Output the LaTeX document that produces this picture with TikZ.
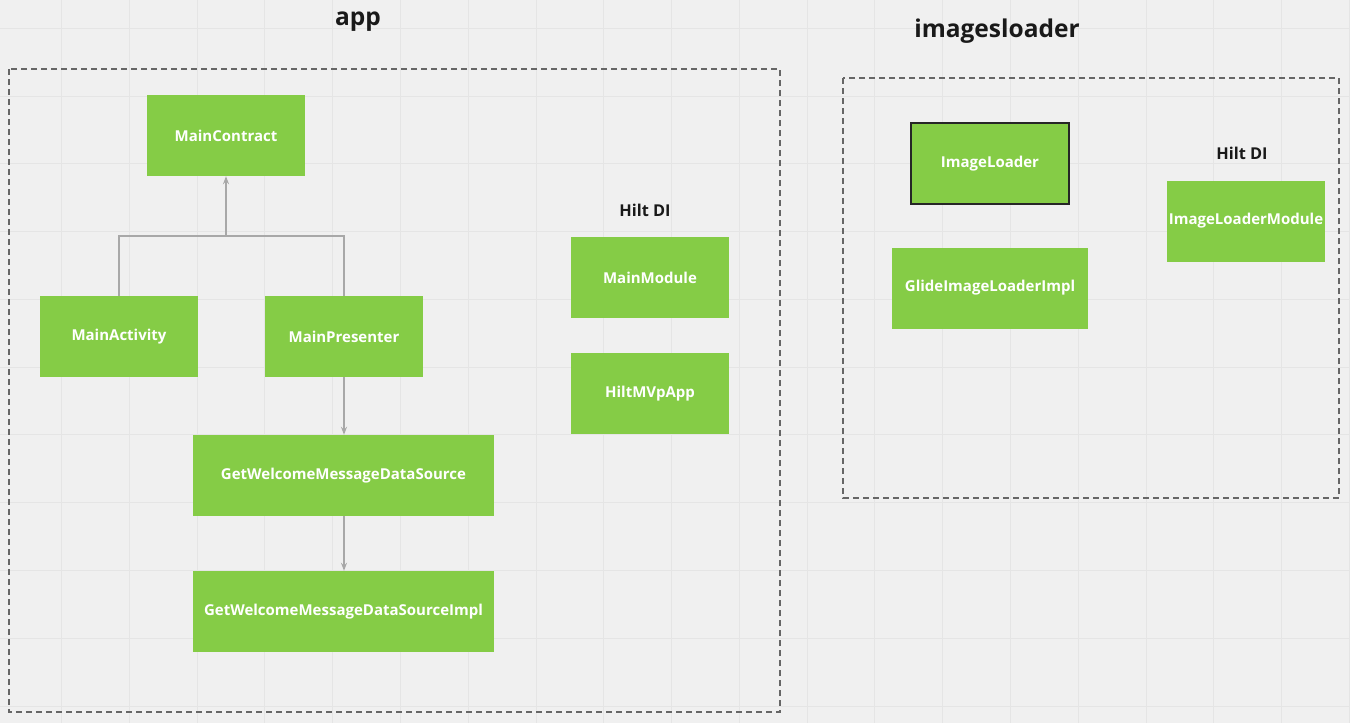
\documentclass[tikz,border=0pt]{standalone}
\usepackage{fontspec}
\setmainfont{Open Sans}
\usetikzlibrary{arrows.meta}
\definecolor{boardbg}{HTML}{F0F0F0}
\definecolor{gridgray}{HTML}{E5E5E5}
\definecolor{miro}{HTML}{85CC46}
\definecolor{linkgray}{HTML}{A8A8A8}
\begin{document}
\begin{tikzpicture}[x=1pt, y=-1pt,
  every node/.style={font=\bfseries\fontsize{15}{18}\selectfont},
  cls/.style={fill=miro, text=white, minimum width=158pt, minimum height=81pt, inner sep=0pt},
  wide/.style={cls, minimum width=301pt},
  title/.style={font=\bfseries\fontsize{24.5}{29}\selectfont, text=black!90},
  group/.style={font=\bfseries\fontsize{16.3}{19}\selectfont, text=black!90},
  link/.style={draw=linkgray, line width=1.6pt},
  arr/.style={link, -{Stealth[length=8pt, width=6pt]}},
  frame/.style={draw=black!60, dash pattern=on 6pt off 4pt, line width=1.1pt}]
\useasboundingbox (0,0) rectangle (1350,723);
\fill[boardbg] (0,0) rectangle (1350,723);
\foreach \gx in {61,129,197,264,332,400,468,536,603,671,739,807,874,942,1010,1078,1146,1213,1281,1349}
  \draw[gridgray, line width=1pt] (\gx,0) -- (\gx,723);
\foreach \gy in {28,96,163,231,299,367,434,502,570,638,706}
  \draw[gridgray, line width=1pt] (0,\gy) -- (1350,\gy);
\draw[frame] (9,69) rectangle (780,712);
\draw[frame] (843,78) rectangle (1339,498);
\node[title] (app) at (358,22) {app};
\node[title] (imgl) at (997,31) {imagesloader};
\node (contract) [cls] at (226,135.5) {MainContract};
\node (activity) [cls] at (119,336.5) {MainActivity};
\node (presenter) [cls] at (344,336.5) {MainPresenter};
\node (source) [wide] at (343.5,475.5) {GetWelcomeMessageDataSource};
\node (impl) [wide] at (343.5,611.5) {GetWelcomeMessageDataSourceImpl};
\node[group] (hilt) at (645,210) {Hilt DI};
\node (module) [cls] at (650,277.5) {MainModule};
\node (mvpapp) [cls] at (650,393.5) {HiltMVpApp};
\node (loader) [cls, draw=black!85, line width=1.5pt] at (990,163.5) {ImageLoader};
\node (glide) [cls, minimum width=196pt] at (990,288) {GlideImageLoaderImpl};
\node[group] (hilt2) at (1242,153) {Hilt DI};
\node (lmodule) [cls] at (1246,221) {ImageLoaderModule};
\coordinate (fork) at (226,236);
\draw[link] (activity.north) |- (fork) -| (presenter.north);
\draw[arr] (fork) -- (contract.south);
\draw[arr] (presenter.south) -- (source.north -| presenter.south);
\draw[arr] (source.south -| presenter.south) -- (impl.north -| presenter.south);
\end{tikzpicture}
\end{document}
